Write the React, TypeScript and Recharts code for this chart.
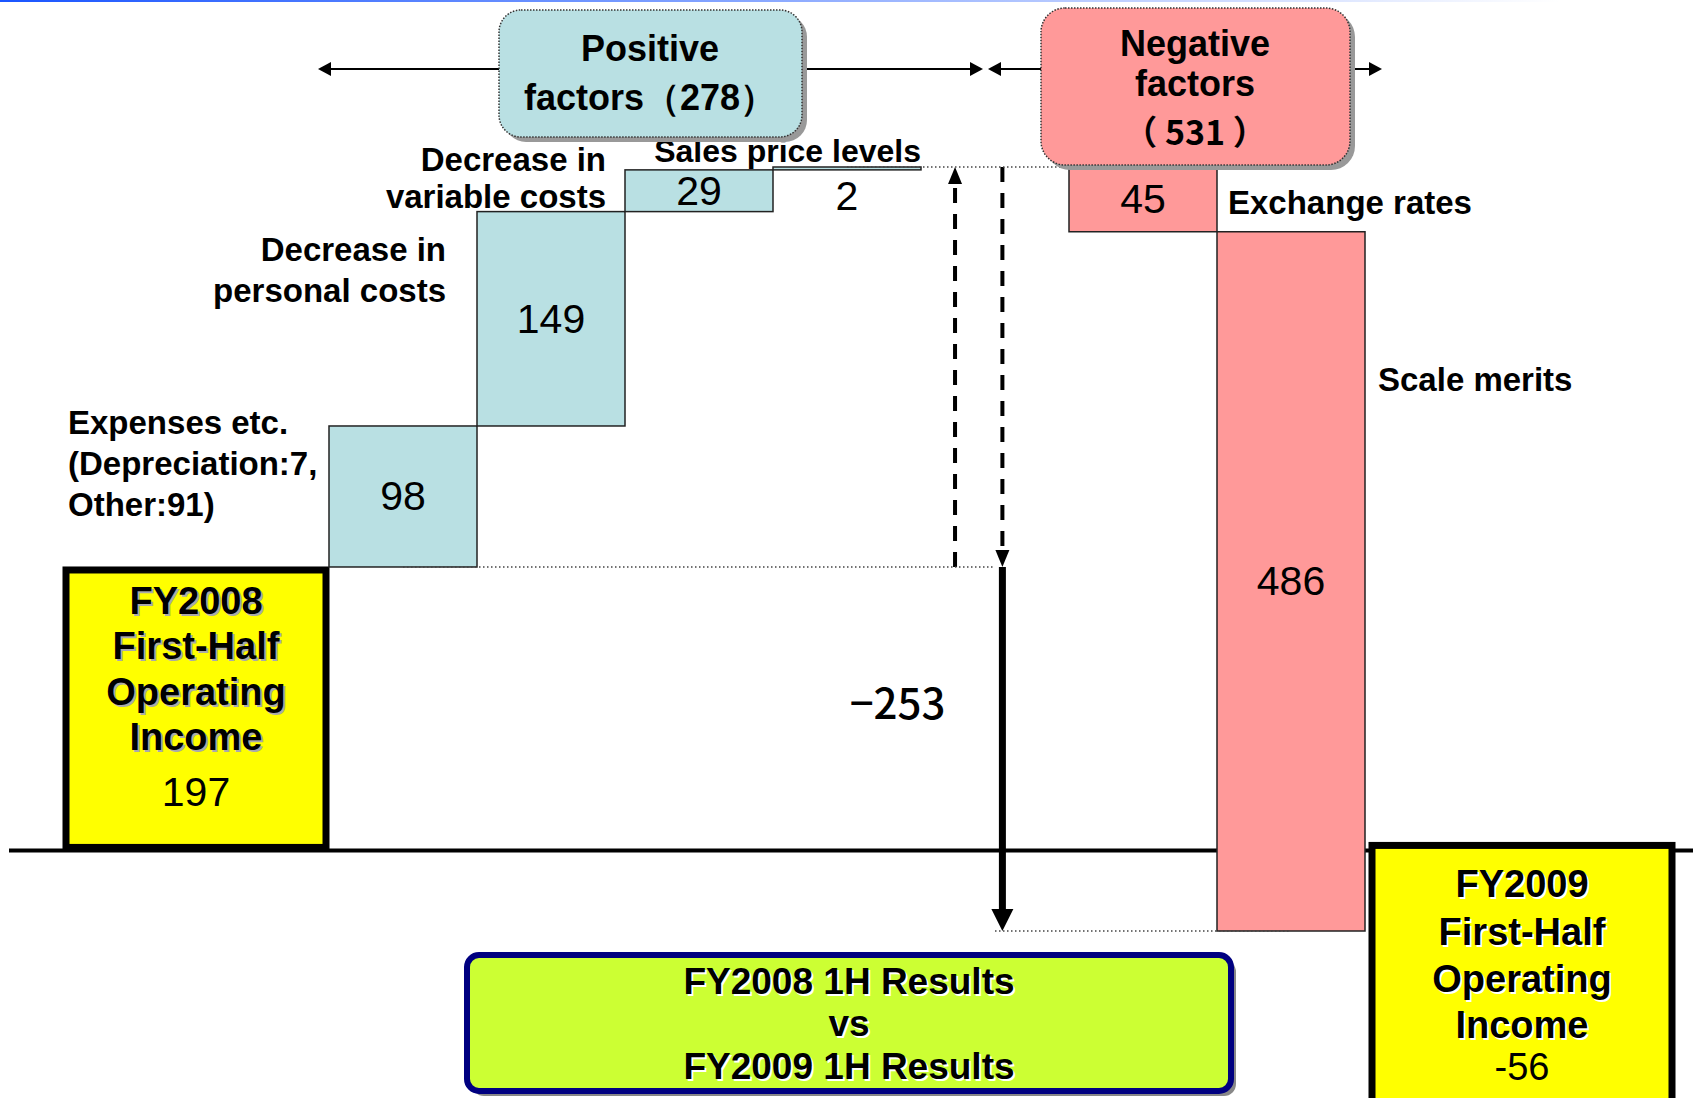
import React from "react";
import { ComposedChart, Bar, XAxis, YAxis, ReferenceLine } from "recharts";

// ---------- data ----------
const startName = "FY2008 First-Half Operating Income";
const startTitleLines = ["FY2008", "First-Half", "Operating", "Income"];
const startValue = 197;

const positiveNames = [
  "Expenses etc. (Depreciation:7, Other:91)",
  "Decrease in personal costs",
  "Decrease in variable costs",
  "Sales price levels",
];
const positiveLabelLines = [
  ["Expenses etc.", "(Depreciation:7,", "Other:91)"],
  ["Decrease in", "personal costs"],
  ["Decrease in", "variable costs"],
  ["Sales price levels"],
];
const positiveValues = [98, 149, 29, 2];

const negativeNames = ["Exchange rates", "Scale merits"];
const negativeValues = [45, 486];

const endName = "FY2009 First-Half Operating Income";
const endTitleLines = ["FY2009", "First-Half", "Operating", "Income"];
const endValue = -56;

const netName = "Change";
const comparisonLines = ["FY2008 1H Results", "vs", "FY2009 1H Results"];

// ---------- derived ----------
const sum = (a: number[]) => a.reduce((s, v) => s + v, 0);
const positiveTotal = sum(positiveValues);
const negativeTotal = sum(negativeValues);
const peak = startValue + positiveTotal;

type Row = {
  name: string;
  kind: "pos" | "neg" | "net" | "start" | "end";
  slot: number;
  value: number;
  range: [number, number];
  lines?: string[];
  pivot?: number;
};

const factorRows: Row[] = [];
let level = startValue;
positiveValues.forEach((v, i) => {
  factorRows.push({ name: positiveNames[i], kind: "pos", slot: i, value: v, range: [level, level + v], lines: positiveLabelLines[i] });
  level += v;
});
factorRows.push({ name: netName, kind: "net", slot: 0, value: endValue - startValue, range: [endValue, peak], pivot: startValue });
negativeValues.forEach((v, i) => {
  factorRows.push({ name: negativeNames[i], kind: "neg", slot: i, value: v, range: [level - v, level], lines: [negativeNames[i]] });
  level -= v;
});

const startRows: Row[] = [{ name: startName, kind: "start", slot: 0, value: startValue, range: [0, startValue], lines: startTitleLines }];
const endRows: Row[] = [{ name: endName, kind: "end", slot: 0, value: endValue, range: [endValue, 0], lines: endTitleLines }];

const domainMin = Math.min(0, endValue, level);
const domainMax = peak;

// ---------- layout / style ----------
const W = 1693;
const H = 1098;
const TOP = 167;
const BOTTOM = H - 931;
const FONT = "'Liberation Sans', Arial, Helvetica, sans-serif";
const POS_FILL = "#b9e0e3";
const NEG_FILL = "#ff9999";
const YELLOW = "#ffff00";

// label placement relative to each bar (x from bar left / right edge, y from bar top)
const posLabelLayout = [
  { anchor: "start", fromRight: false, dx: -261, dys: [-3, 38, 79], size: 33 },
  { anchor: "end", fromRight: false, dx: -31, dys: [38, 79], size: 33 },
  { anchor: "end", fromRight: false, dx: -19, dys: [-10, 27], size: 33 },
  { anchor: "end", fromRight: true, dx: 0, dys: [-16], size: 32 },
];
const negLabelLayout = [
  { dx: 11, dys: [35] },
  { dx: 13, dys: [148] },
];

const fmtSigned = (v: number) => (v < 0 ? "\u2212" + Math.abs(v) : String(v));

function FactorShape(props: any) {
  const { x, y, width, height, payload } = props;
  const row: Row = payload;
  if (row.kind === "net") {
    const [lo, hi] = row.range;
    const yAt = (v: number) => y + (height * (hi - v)) / (hi - lo);
    const yPivot = yAt(row.pivot as number);
    const yEnd = yAt(lo);
    const yTop = y;
    const xUp = x + width * 0.23;
    const xDown = x + width * 0.55;
    return (
      <g>
        <line x1={xUp} y1={yPivot} x2={xUp} y2={yTop + 14} stroke="#000" strokeWidth={4} strokeDasharray="15 11" />
        <polygon points={`${xUp},${yTop} ${xUp - 7},${yTop + 17} ${xUp + 7},${yTop + 17}`} fill="#000" />
        <line x1={xDown} y1={yTop} x2={xDown} y2={yPivot - 14} stroke="#000" strokeWidth={4} strokeDasharray="15 11" />
        <polygon points={`${xDown},${yPivot} ${xDown - 7},${yPivot - 17} ${xDown + 7},${yPivot - 17}`} fill="#000" />
        <line x1={xDown} y1={yPivot} x2={xDown} y2={yEnd - 20} stroke="#000" strokeWidth={7} />
        <polygon points={`${xDown},${yEnd} ${xDown - 11},${yEnd - 22} ${xDown + 11},${yEnd - 22}`} fill="#000" />
        <text x={xDown - 57} y={yPivot + 134} textAnchor="end" dominantBaseline="central" fontFamily="'Noto Sans CJK JP', 'Liberation Sans', sans-serif" fontSize={42} fontWeight={500} fill="#000">
          {fmtSigned(row.value)}
        </text>
      </g>
    );
  }
  const isPos = row.kind === "pos";
  const fill = isPos ? POS_FILL : NEG_FILL;
  const lines = row.lines || [];
  let labelEls: React.ReactNode[] = [];
  if (isPos) {
    const l = posLabelLayout[row.slot];
    const baseX = l.fromRight ? x + width : x;
    labelEls = lines.map((t, i) => (
      <text key={i} x={baseX + l.dx} y={y + l.dys[i]} textAnchor={l.anchor as any} dominantBaseline="central" fontFamily={FONT} fontWeight="bold" fontSize={l.size} fill="#000">
        {t}
      </text>
    ));
  } else {
    const l = negLabelLayout[row.slot];
    labelEls = lines.map((t, i) => (
      <text key={i} x={x + width + l.dx} y={y + l.dys[i]} textAnchor="start" dominantBaseline="central" fontFamily={FONT} fontWeight="bold" fontSize={33} fill="#000">
        {t}
      </text>
    ));
  }
  const valueY = height > 36 ? y + height / 2 : y + height + 26;
  return (
    <g>
      {labelEls}
      <rect x={x} y={y} width={width} height={height} fill={fill} stroke="#222" strokeWidth={1.5} />
      <text x={x + width / 2} y={valueY} textAnchor="middle" dominantBaseline="central" fontFamily={FONT} fontSize={41} fill="#000">
        {row.value}
      </text>
    </g>
  );
}

function ShadowText(props: { x: number; y: number; size: number; bold?: boolean; shadow: string; children: React.ReactNode }) {
  const { x, y, size, bold, shadow, children } = props;
  return (
    <g>
      <text x={x + 2} y={y + 2} textAnchor="middle" dominantBaseline="central" fontFamily={FONT} fontWeight={bold ? "bold" : "normal"} fontSize={size} fill={shadow}>
        {children}
      </text>
      <text x={x} y={y} textAnchor="middle" dominantBaseline="central" fontFamily={FONT} fontWeight={bold ? "bold" : "normal"} fontSize={size} fill="#000">
        {children}
      </text>
    </g>
  );
}

function TotalShape(props: any) {
  const { x, y, width, height, payload } = props;
  const row: Row = payload;
  const lines = row.lines || [];
  const cx = x + width / 2;
  if (row.kind === "start") {
    const dys = [34, 79, 125, 170];
    return (
      <g>
        <rect x={x + 3} y={y + 3} width={width - 6} height={height - 6} fill={YELLOW} stroke="#000" strokeWidth={7} />
        {lines.map((t, i) => (
          <ShadowText key={i} x={cx} y={y + dys[i]} size={38} bold shadow="#aaa">{t}</ShadowText>
        ))}
        <text x={cx} y={y + 225} textAnchor="middle" dominantBaseline="central" fontFamily={FONT} fontSize={41} fill="#000">
          {row.value}
        </text>
      </g>
    );
  }
  // end box: label panel hanging from the zero level (its lower edge is cropped by the page)
  const dys = [34, 82, 129, 175];
  return (
    <g>
      <rect x={x + 3} y={y - 5} width={width - 6} height={290} fill={YELLOW} stroke="#000" strokeWidth={7} />
      {lines.map((t, i) => (
        <ShadowText key={i} x={cx} y={y + dys[i]} size={38} bold shadow="#fff">{t}</ShadowText>
      ))}
      <text x={cx} y={y + 217} textAnchor="middle" dominantBaseline="central" fontFamily={FONT} fontSize={38} fill="#000">
        {row.value}
      </text>
    </g>
  );
}

const layer: React.CSSProperties = { position: "absolute", left: 0, top: 0 };

function Arrow({ x1, x2, y }: { x1: number; x2: number; y: number }) {
  return (
    <g>
      <line x1={x1 + 10} y1={y} x2={x2 - 10} y2={y} stroke="#000" strokeWidth={2} />
      <polygon points={`${x1},${y} ${x1 + 13},${y - 7} ${x1 + 13},${y + 7}`} fill="#000" />
      <polygon points={`${x2},${y} ${x2 - 13},${y - 7} ${x2 - 13},${y + 7}`} fill="#000" />
    </g>
  );
}

export default function App() {
  const yAxis = <YAxis hide type="number" domain={[domainMin, domainMax]} />;
  return (
    <div style={{ position: "absolute", left: 0, top: 0, width: W, height: H, background: "#fff", overflow: "hidden" }}>
      {/* zero line across the page */}
      <div style={layer}>
        <ComposedChart width={W} height={H} data={startRows} margin={{ top: TOP, bottom: BOTTOM, left: 9, right: 0 }}>
          <XAxis hide dataKey="name" type="category" />
          <YAxis hide type="number" domain={[domainMin, domainMax]} allowDataOverflow />
          <ReferenceLine y={0} stroke="#000" strokeWidth={4} ifOverflow="visible" />
        </ComposedChart>
      </div>
      {/* starting total */}
      <div style={layer}>
        <ComposedChart width={W} height={H} data={startRows} margin={{ top: TOP, bottom: BOTTOM, left: 63, right: W - 329 }} barCategoryGap={0}>
          <XAxis hide dataKey="name" type="category" />
          {yAxis}
          <Bar dataKey="range" isAnimationActive={false} shape={TotalShape} />
        </ComposedChart>
      </div>
      {/* factors */}
      <div style={layer}>
        <ComposedChart width={W} height={H} data={factorRows} margin={{ top: TOP, bottom: BOTTOM, left: 329, right: W - 1365 }} barCategoryGap={0}>
          <XAxis hide dataKey="name" type="category" />
          {yAxis}
          <ReferenceLine segment={[{ x: positiveNames[3], y: peak }, { x: negativeNames[0], y: peak }]} stroke="#444" strokeWidth={1.5} strokeDasharray="1.5 2.5" />
          <ReferenceLine segment={[{ x: positiveNames[0], y: startValue }, { x: netName, y: startValue }]} stroke="#444" strokeWidth={1.5} strokeDasharray="1.5 2.5" />
          <ReferenceLine segment={[{ x: netName, y: endValue }, { x: negativeNames[1], y: endValue }]} stroke="#444" strokeWidth={1.5} strokeDasharray="1.5 2.5" />
          <Bar dataKey="range" isAnimationActive={false} shape={FactorShape} />
        </ComposedChart>
      </div>
      {/* ending total */}
      <div style={layer}>
        <ComposedChart width={W} height={H} data={endRows} margin={{ top: TOP, bottom: BOTTOM, left: 1369, right: W - 1675 }} barCategoryGap={0}>
          <XAxis hide dataKey="name" type="category" />
          {yAxis}
          <Bar dataKey="range" isAnimationActive={false} shape={TotalShape} />
        </ComposedChart>
      </div>
      {/* annotations */}
      <svg style={layer} width={W} height={H}>
        <defs>
          <linearGradient id="topline" x1="0" x2="1" y1="0" y2="0">
            <stop offset="0" stopColor="#1a55ff" />
            <stop offset="1" stopColor="#ffffff" />
          </linearGradient>
        </defs>
        <rect x={0} y={0} width={1560} height={2} fill="url(#topline)" />
        <Arrow x1={318} x2={983} y={69} />
        <Arrow x1={988} x2={1382} y={69} />
        <rect x={504} y={15} width={303} height={127} rx={22} fill="#999" />
        <rect x={499} y={10} width={303} height={127} rx={22} fill={POS_FILL} stroke="#333" strokeWidth={1.5} strokeDasharray="1.5 1.5" />
        <text x={650} y={48} textAnchor="middle" dominantBaseline="central" fontFamily={FONT} fontWeight="bold" fontSize={36}>Positive</text>
        <text x={650} y={97} textAnchor="middle" dominantBaseline="central" fontFamily={FONT} fontWeight="bold" fontSize={36}>
          {"factors\uff08" + positiveTotal + "\uff09"}
        </text>
        <rect x={1046} y={13} width={309} height={157} rx={24} fill="#999" />
        <rect x={1041} y={8} width={309} height={157} rx={24} fill={NEG_FILL} stroke="#333" strokeWidth={1.5} strokeDasharray="1.5 1.5" />
        <text x={1195} y={43} textAnchor="middle" dominantBaseline="central" fontFamily={FONT} fontWeight="bold" fontSize={36}>Negative</text>
        <text x={1195} y={83} textAnchor="middle" dominantBaseline="central" fontFamily={FONT} fontWeight="bold" fontSize={36}>factors</text>
        <text x={1195} y={130} textAnchor="middle" dominantBaseline="central" fontFamily="'Noto Sans CJK JP', sans-serif" fontWeight="bold" fontSize={34}>
          {"\uff08 " + negativeTotal + " \uff09"}
        </text>
        <rect x={472} y={960} width={764} height={136} rx={12} fill="#888" />
        <rect x={467} y={955} width={764} height={136} rx={12} fill="#ccff33" stroke="#000080" strokeWidth={6} />
        {comparisonLines.map((t, i) => (
          <ShadowText key={i} x={849} y={981 + i * 42.5} size={37} bold shadow="#fff">{t}</ShadowText>
        ))}
      </svg>
    </div>
  );
}
